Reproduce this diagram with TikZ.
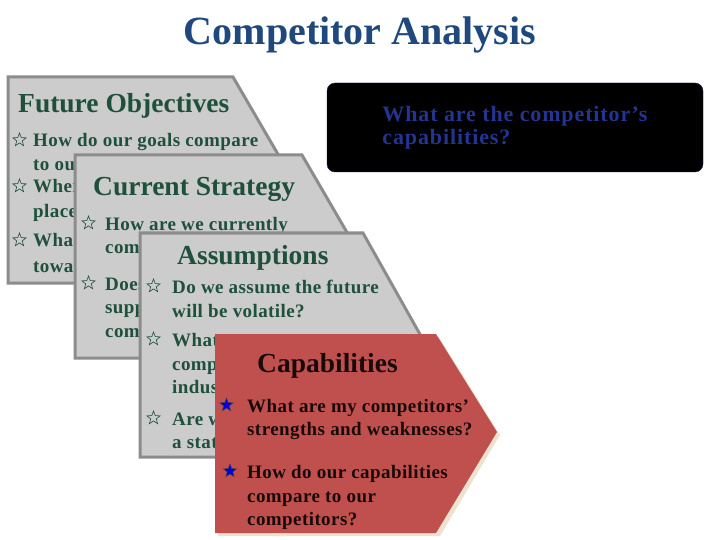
\documentclass[tikz,border=0pt]{standalone}
\usepackage{fontspec}
\setmainfont{Liberation Serif}
\newfontfamily\itemfont[LetterSpace=2.2]{Liberation Serif}
\newfontfamily\boxfont[LetterSpace=4]{Liberation Serif}
\usetikzlibrary{shapes.geometric}
\definecolor{titleblue}{RGB}{31,73,125}
\definecolor{cardgreen}{RGB}{30,80,60}
\definecolor{cardgray}{RGB}{204,204,204}
\definecolor{cardline}{RGB}{140,140,140}
\definecolor{capred}{RGB}{192,80,77}
\definecolor{capshade}{RGB}{236,226,206}
\definecolor{capink}{RGB}{25,10,10}
\definecolor{boxblue}{RGB}{35,52,145}
\definecolor{boxline}{RGB}{20,30,80}
\definecolor{starblue}{RGB}{0,0,225}
\begin{document}
\begin{tikzpicture}[x=1pt,y=-1pt,
    card/.style={fill=cardgray,draw=cardline,line width=3pt,line join=miter},
    head/.style={anchor=base west,inner sep=0pt,text=cardgreen,font=\bfseries\fontsize{27.5}{33}\selectfont},
    item/.style={anchor=base west,inner sep=0pt,text=cardgreen,font=\itemfont\bfseries\fontsize{19}{23}\selectfont},
    greenstar/.style={star,star points=5,star point ratio=2.4,minimum size=14pt,inner sep=0pt,draw=cardgreen,line width=.6pt},
    bluestar/.style={star,star points=5,star point ratio=2.4,minimum size=14pt,inner sep=0pt,fill=starblue,draw=black!75,line width=.5pt}]
    \useasboundingbox (0,0) rectangle (720,540);
    \node[anchor=base,inner sep=0pt,text=titleblue,font=\bfseries\fontsize{40}{48}\selectfont] (title) at (360,45) {Competitor Analysis};
    % future objectives
    \draw[card] (8,77) -- (233,77) -- (293,180) -- (233,283) -- (8,283) -- cycle;
    \node[head] (fo) at (18,113) {Future Objectives};
    \node[greenstar] (fos1) at (19.5,140) {};
    \node[item] (fo1) at (33,147) {How do our goals compare};
    \node[item] (fo2) at (33,171) {to ou};
    \node[greenstar] (fos2) at (19.5,186) {};
    \node[item] (fo3) at (33,193) {Wher};
    \node[item] (fo4) at (33,218) {place};
    \node[greenstar] (fos3) at (19.5,240) {};
    \node[item] (fo5) at (33,247) {What};
    \node[item] (fo6) at (33,272) {towar};
    % current strategy
    \draw[card] (75,155) -- (302,155) -- (361,256.5) -- (302,358) -- (75,358) -- cycle;
    \node[head] (cs) at (93,196) {Current Strategy};
    \node[greenstar] (css1) at (88.5,223) {};
    \node[item] (cs1) at (105,230) {How are we currently};
    \node[item] (cs2) at (105,253) {com};
    \node[greenstar] (css2) at (88.5,283) {};
    \node[item] (cs3) at (105,290) {Does};
    \node[item] (cs4) at (105,313) {supp};
    \node[item] (cs5) at (105,337) {com};
    % assumptions
    \draw[card] (140,233) -- (363,233) -- (426,345) -- (363,457) -- (140,457) -- cycle;
    \node[head] (as) at (177,264) {Assumptions};
    \node[greenstar] (ass1) at (153.5,286) {};
    \node[item] (as1) at (172,293) {Do we assume the future};
    \node[item] (as2) at (172,317) {will be volatile?};
    \node[greenstar] (ass2) at (153.5,339) {};
    \node[item] (as3) at (172,346) {What};
    \node[item] (as4) at (172,370) {comp};
    \node[item] (as5) at (172,393) {indus};
    \node[greenstar] (ass3) at (153.5,418) {};
    \node[item] (as6) at (172,425) {Are w};
    \node[item] (as7) at (172,448) {a stat};
    % capabilities
    \fill[capshade] (218,337) -- (439,337) -- (500,435) -- (440,536) -- (218,536) -- cycle;
    \fill[capred] (215,334) -- (436,334) -- (497,432) -- (436,533) -- (215,533) -- cycle;
    \node[head,text=capink] (cp) at (257,372) {Capabilities};
    \node[bluestar] (cps1) at (226.5,405) {};
    \node[item,text=capink] (cp1) at (247,412) {What are my competitors’};
    \node[item,text=capink] (cp2) at (247,435) {strengths and weaknesses?};
    \node[bluestar] (cps2) at (230,471) {};
    \node[item,text=capink] (cp3) at (247,478) {How do our capabilities};
    \node[item,text=capink] (cp4) at (247,502) {compare to our};
    \node[item,text=capink] (cp5) at (247,525) {competitors?};
    % question box
    \node[fill=black,draw=boxline,rounded corners=8pt,minimum width=376pt,minimum height=89pt,align=left,
        text=boxblue,font=\boxfont\bfseries\fontsize{22}{23}\selectfont] (capq) at (515,127.5) {What are the competitor’s\\capabilities?};
\end{tikzpicture}
\end{document}
